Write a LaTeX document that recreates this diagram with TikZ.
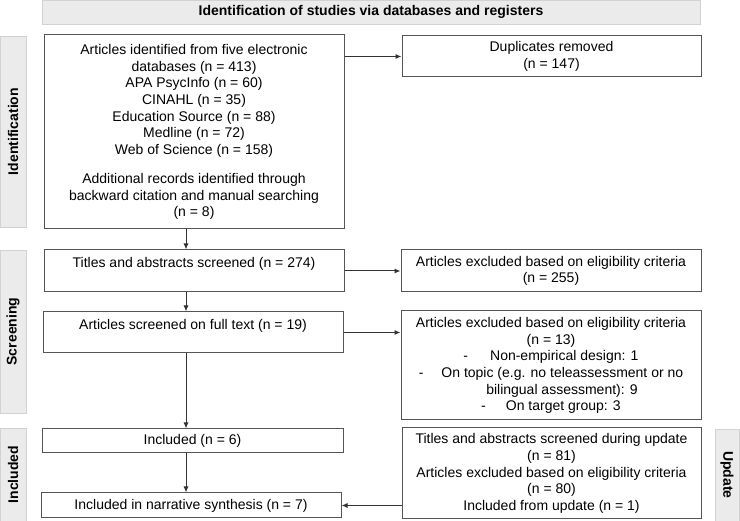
\documentclass[tikz,border=0pt]{standalone}
\usepackage{fontspec}
\setmainfont{Liberation Sans}
\usetikzlibrary{arrows.meta}

\definecolor{boxline}{HTML}{555555}
\definecolor{arrowline}{HTML}{333333}
\definecolor{barfill}{HTML}{EBEBEB}
\definecolor{barline}{HTML}{D2D2D2}

\begin{document}
\begin{tikzpicture}[x=1pt, y=-1pt,
  every node/.style={font=\fontsize{14}{16.7}\selectfont},
  box/.style={draw=boxline, line width=1pt, align=center, inner sep=0pt},
  bar/.style={draw=barline, fill=barfill, line width=0.8pt, inner sep=0pt,
    font=\fontsize{14}{16.7}\selectfont\bfseries},
  flow/.style={-{Latex[length=6pt,width=5pt]}, draw=arrowline, line width=1pt}]

\useasboundingbox (0,0) rectangle (740,521);

% Header and phase labels
\node[bar, minimum width=658, minimum height=24] (head) at (371,12)
  {Identification of studies via databases and registers};
\node[bar, rotate=90, minimum width=191, minimum height=26] (lblident) at (13,131.5) {Identification};
\node[bar, rotate=90, minimum width=163, minimum height=26] (lblscreen) at (13,331.5) {Screening};
\node[bar, rotate=90, minimum width=93, minimum height=26] (lblincl) at (13,474.5) {Included};
\node[bar, rotate=-90, minimum width=92, minimum height=24] (lblupdate) at (727,475) {Update};

% Left column
\node[box, minimum width=300, minimum height=194] (ident) at (194,132)
  {Articles identified from five electronic\\
   databases (n = 413)\\
   APA PsycInfo (n = 60)\\
   CINAHL (n = 35)\\
   Education Source (n = 88)\\
   Medline (n = 72)\\
   Web of Science (n = 158)\\[12pt]
   Additional records identified through\\
   backward citation and manual searching\\
   (n = 8)};
\node[box, minimum width=300, minimum height=42] (titles) at (194,271)
  {Titles and abstracts screened (n = 274)\\ \mbox{}};
\node[box, minimum width=300, minimum height=41] (fulltext) at (193,332.5)
  {Articles screened on full text (n = 19)\\ \mbox{}};
\node[box, minimum width=301, minimum height=24] (incl) at (192.5,441) {Included (n = 6)};
\node[box, minimum width=300, minimum height=25] (synth) at (191,505.5)
  {Included in narrative synthesis (n = 7)};

% Right column
\node[box, minimum width=299, minimum height=41] (dupl) at (551.5,56.5)
  {Duplicates removed\\ (n = 147)};
\node[box, minimum width=300, minimum height=42] (excltitles) at (551,271)
  {Articles excluded based on eligibility criteria\\ (n = 255)};
\node[box, minimum width=300, minimum height=109] (exclfull) at (551,365.5)
  {Articles excluded based on eligibility criteria\\
   (n = 13)\\
   -\hspace{22pt}Non-empirical design: 1\\
   -\hspace{18pt}On topic (e.g. no teleassessment or no\\
   \hspace{22pt}bilingual assessment): 9\\
   -\hspace{20pt}On target group: 3};
\node[box, minimum width=299, minimum height=91] (update) at (551.5,473.5)
  {Titles and abstracts screened during update\\
   (n = 81)\\
   Articles excluded based on eligibility criteria\\
   (n = 80)\\
   Included from update (n = 1)};

% Connectors
\coordinate (spine) at (186,0);
\draw[flow] (ident.south -| spine) -- (titles.north -| spine);
\draw[flow] (titles.south -| spine) -- (fulltext.north -| spine);
\draw[flow] (fulltext.south -| spine) -- (incl.north -| spine);
\draw[flow] (incl.south -| spine) -- (synth.north -| spine);
\draw[flow] (ident.east |- dupl.west) -- (dupl.west);
\draw[flow] (titles.east) -- (excltitles.west |- titles.east);
\draw[flow] (fulltext.east) -- (exclfull.west |- fulltext.east);
\draw[flow] (update.west |- synth.east) -- (synth.east);

\end{tikzpicture}
\end{document}
